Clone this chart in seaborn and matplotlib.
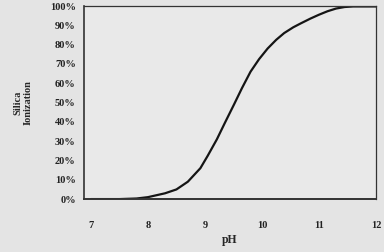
import matplotlib
matplotlib.use("Agg")
import matplotlib.pyplot as plt
import seaborn as sns
import pandas as pd

ph = [7.0, 7.5, 7.8, 8.0, 8.3, 8.5, 8.7, 8.92, 9.05, 9.21, 9.35, 9.51, 9.65, 9.8,
      9.95, 10.1, 10.25, 10.39, 10.55, 10.68, 10.85, 11.0, 11.15, 11.3, 11.45, 11.6, 12.0]
ionization = [0, 0, 0.3, 1, 3, 5, 9, 16, 22.5, 31, 39.5, 49, 57.5, 66,
              72.5, 78, 82.5, 86, 89, 91, 93.5, 95.5, 97.3, 98.7, 99.5, 99.8, 99.8]
xticks = [7, 8, 9, 10, 11, 12]
yticks = list(range(0, 101, 10))
ytick_labels = [f"{v}%" for v in yticks]

df = pd.DataFrame({"pH": ph, "ion": ionization})

sns.set_theme(style="white")
plt.rcParams['font.family'] = ['Liberation Serif', 'DejaVu Serif']

fig = plt.figure(figsize=(3.84, 2.52), dpi=100)
fig.patch.set_facecolor('#e4e4e4')
ax = fig.add_axes([0.219, 0.21, 0.76, 0.766])
ax.set_facecolor('#e9e9e9')

sns.lineplot(data=df, x="pH", y="ion", ax=ax, color='#151515', linewidth=1.6)

ax.set_xlim(6.88, 12.0)
ax.set_ylim(0, 100)
ax.set_xticks(xticks)
ax.set_xticklabels([str(t) for t in xticks], fontsize=7.5, fontweight='bold')
ax.set_yticks(yticks)
ax.set_yticklabels(ytick_labels, fontsize=7.5, fontweight='bold')
ax.tick_params(axis='x', direction='in', length=3, width=0.8, pad=16, colors='#222222')
ax.tick_params(axis='y', direction='inout', length=4, width=0.8, pad=4, colors='#222222')
for s in ax.spines.values():
    s.set_visible(True)
    s.set_color('#333333')
    s.set_linewidth(0.9)
ax.spines['bottom'].set_linewidth(1.4)
ax.spines['left'].set_linewidth(1.2)

ax.set_xlabel("pH", fontsize=8.5, fontweight='bold', labelpad=3)
ax.set_ylabel("Silica\nIonization", fontsize=7.5, fontweight='bold', labelpad=12)

fig.savefig("out.png", dpi=100, facecolor=fig.get_facecolor())
